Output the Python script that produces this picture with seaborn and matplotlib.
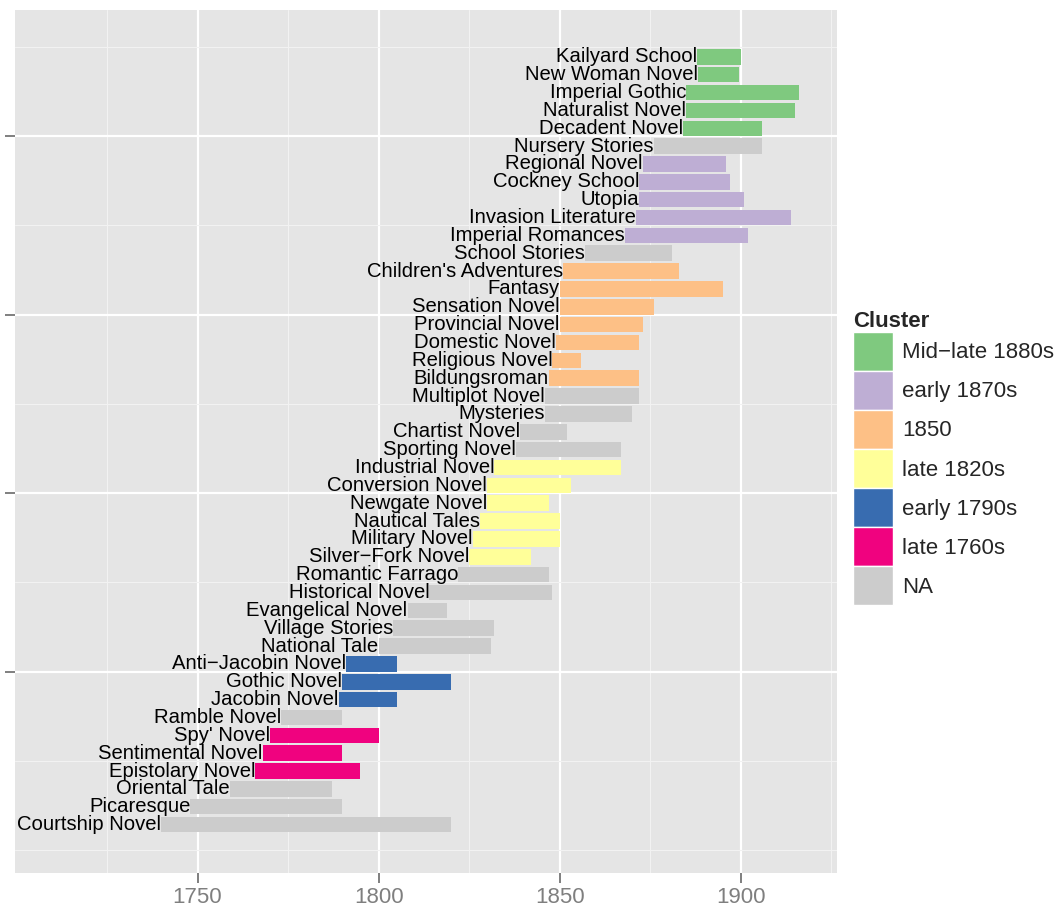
import matplotlib
matplotlib.use("Agg")
from matplotlib import pyplot as plt
from matplotlib.patches import Patch
import seaborn as sns
import pandas as pd

# genres listed bottom to top
genres = [
    "Courtship Novel", "Picaresque", "Oriental Tale", "Epistolary Novel",
    "Sentimental Novel", "Spy' Novel", "Ramble Novel", "Jacobin Novel",
    "Gothic Novel", "Anti\u2212Jacobin Novel", "National Tale", "Village Stories",
    "Evangelical Novel", "Historical Novel", "Romantic Farrago",
    "Silver\u2212Fork Novel", "Military Novel", "Nautical Tales", "Newgate Novel",
    "Conversion Novel", "Industrial Novel", "Sporting Novel", "Chartist Novel",
    "Mysteries", "Multiplot Novel", "Bildungsroman", "Religious Novel",
    "Domestic Novel", "Provincial Novel", "Sensation Novel", "Fantasy",
    "Children's Adventures", "School Stories", "Imperial Romances",
    "Invasion Literature", "Utopia", "Cockney School", "Regional Novel",
    "Nursery Stories", "Decadent Novel", "Naturalist Novel", "Imperial Gothic",
    "New Woman Novel", "Kailyard School",
]
start = [
    1740, 1748, 1759, 1766, 1768, 1770, 1773, 1789, 1790, 1791, 1800, 1804,
    1808, 1814, 1822, 1825, 1826, 1828, 1830, 1830, 1832, 1838, 1839, 1846,
    1846, 1847, 1848, 1849, 1850, 1850, 1850, 1851, 1857, 1868, 1871, 1872,
    1872, 1873, 1876, 1884, 1885, 1885, 1888.3, 1888,
]
end = [
    1820, 1790, 1787, 1795, 1790, 1800, 1790, 1805, 1820, 1805, 1831, 1832,
    1819, 1848, 1847, 1842, 1850, 1850, 1847, 1853, 1867, 1867, 1852, 1870,
    1872, 1872, 1856, 1872, 1873, 1876, 1895, 1883, 1881, 1902, 1914, 1901,
    1897, 1896, 1906, 1906, 1915, 1916, 1899.4, 1900,
]
cluster = [
    "NA", "NA", "NA", "late 1760s", "late 1760s", "late 1760s", "NA",
    "early 1790s", "early 1790s", "early 1790s", "NA", "NA", "NA", "NA", "NA",
    "late 1820s", "late 1820s", "late 1820s", "late 1820s", "late 1820s",
    "late 1820s", "NA", "NA", "NA", "NA", "1850", "1850", "1850", "1850",
    "1850", "1850", "1850", "NA", "early 1870s", "early 1870s", "early 1870s",
    "early 1870s", "early 1870s", "NA", "Mid\u2212late 1880s",
    "Mid\u2212late 1880s", "Mid\u2212late 1880s", "Mid\u2212late 1880s",
    "Mid\u2212late 1880s",
]
cluster_order = ["Mid\u2212late 1880s", "early 1870s", "1850", "late 1820s",
                 "early 1790s", "late 1760s", "NA"]

df = pd.DataFrame({"genre": genres, "start": start, "end": end, "cluster": cluster})
df["row"] = range(1, len(df) + 1)

accent = sns.color_palette("Accent", 6)
palette = dict(zip(cluster_order[:-1], accent))
palette["NA"] = "#CCCCCC"

sns.set_theme(style="darkgrid", rc={
    "axes.facecolor": "#E5E5E5",
    "grid.color": "white",
    "axes.edgecolor": "#E5E5E5",
    "xtick.color": "#7F7F7F",
    "ytick.color": "#7F7F7F",
})
plt.rcParams["font.family"] = ["Liberation Sans", "DejaVu Sans"]

fig = plt.figure(figsize=(10.6, 9.09), dpi=100)
ax = fig.add_axes([15 / 1060, 1 - 872.7 / 909, (836.7 - 15) / 1060, (872.7 - 10) / 909])

ax.barh(df["row"], df["end"] - df["start"], left=df["start"], height=0.87,
        align="edge", color=[palette[c] for c in df["cluster"]], linewidth=0)

for _, r in df.iterrows():
    ax.text(r["start"], r["row"] + 0.435, r["genre"], ha="right", va="center",
            fontsize=14.6, color="black")

ax.set_xlim(1699.6, 1926.5)
ax.set_ylim(-1.26, 47.06)
ax.set_xticks([1750, 1800, 1850, 1900])
ax.set_xticks([1725, 1775, 1825, 1875, 1925], minor=True)
ax.set_yticks([10, 20, 30, 40])
ax.set_yticklabels([])
ax.set_yticks([0, 5, 15, 25, 35, 45], minor=True)
ax.grid(which="major", color="white", linewidth=1.6)
ax.grid(which="minor", color="#F2F2F2", linewidth=0.8)
ax.set_axisbelow(True)
ax.tick_params(axis="both", which="major", length=7.5, width=1.4,
               color="#7F7F7F", labelsize=16, labelcolor="#7F7F7F", pad=3,
               left=True, bottom=True)
ax.tick_params(which="minor", length=0)
ax.set_xlabel("")
ax.set_ylabel("")
for s in ax.spines.values():
    s.set_visible(False)

handles = [Patch(facecolor=palette[c], edgecolor="white", linewidth=1, label=c)
           for c in cluster_order]
leg = fig.legend(handles=handles, title="Cluster", loc="upper left",
                 bbox_to_anchor=(853 / 1060, 1 - 311 / 909), frameon=False,
                 fontsize=16, title_fontproperties={"weight": "bold", "size": 16},
                 handlelength=1.8, handleheight=2.326, labelspacing=0,
                 handletextpad=0.4, borderpad=0, borderaxespad=0,
                 alignment="left")

fig.savefig("out.png", dpi=100)
